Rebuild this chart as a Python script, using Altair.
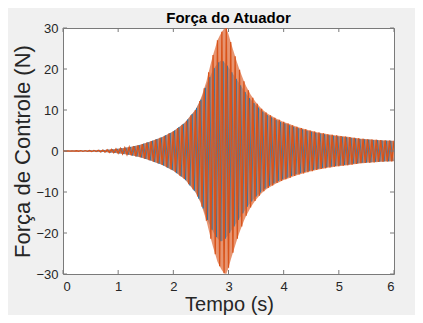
import altair as alt
import pandas as pd

# half-period sampling of the oscillation (s)
T_STEP = 0.04

# Orange series: successive peak values, t = 0, 0.04, ..., 6.00
ORANGE = [
    0.05, -0.05, 0.05, -0.05, 0.05, -0.05, 0.06, -0.06, 0.07, -0.07,
    0.08, -0.09, 0.11, -0.12, 0.13, -0.15, 0.18, -0.21, 0.24, -0.27,
    0.30, -0.35, 0.40, -0.45, 0.50, -0.55, 0.63, -0.71, 0.79, -0.87,
    0.95, -1.06, 1.17, -1.28, 1.39, -1.5, 1.68, -1.86, 2.04, -2.22,
    2.4, -2.6, 2.8, -3.0, 3.2, -3.4, 3.68, -3.96, 4.24, -4.52,
    4.8, -5.2, 5.6, -6.0, 6.4, -6.8, 7.4, -8.1, 8.7, -9.4,
    10.0, -11.1, 12.2, -13.6, 15.3, -17.0, 19.2, -21.4, 23.4, -25.2,
    27.0, -28.1, 29.1, -29.8, 30.0, -28.5, 26.6, -24.8, 23.1, -21.4,
    19.8, -18.4, 17.0, -15.8, 14.8, -13.8, 13.0, -12.2, 11.5, -10.9,
    10.3, -9.8, 9.4, -9.0, 8.7, -8.4, 8.1, -7.8, 7.6, -7.3,
    7.1, -6.9, 6.7, -6.5, 6.3, -6.1, 5.9, -5.75, 5.6, -5.45,
    5.3, -5.15, 5.0, -4.9, 4.75, -4.6, 4.5, -4.4, 4.3, -4.2,
    4.1, -4.0, 3.95, -3.85, 3.8, -3.7, 3.64, -3.58, 3.52, -3.46,
    3.4, -3.32, 3.24, -3.16, 3.08, -3.0, 2.96, -2.92, 2.88, -2.84,
    2.8, -2.76, 2.72, -2.68, 2.64, -2.6, 2.58, -2.56, 2.54, -2.52,
    2.5,
]

# Blue series: successive peak values, t = 0.02, 0.06, ..., 5.98
BLUE = [
    0.05, -0.05, 0.05, -0.05, 0.05, -0.05, 0.06, -0.06, 0.07, -0.07,
    0.08, -0.10, 0.11, -0.12, 0.14, -0.16, 0.19, -0.22, 0.25, -0.28,
    0.32, -0.37, 0.42, -0.47, 0.52, -0.58, 0.66, -0.74, 0.82, -0.90,
    1.0, -1.1, 1.2, -1.32, 1.44, -1.58, 1.76, -1.94, 2.12, -2.3,
    2.5, -2.7, 2.9, -3.1, 3.3, -3.54, 3.82, -4.1, 4.38, -4.66,
    5.0, -5.4, 5.8, -6.2, 6.6, -7.1, 7.7, -8.4, 9.0, -9.7,
    10.5, -11.6, 12.5, -14.0, 15.4, -16.8, 18.0, -19.2, 20.2, -21.0,
    21.6, -22.0, 21.9, -21.4, 20.8, -20.0, 19.2, -18.4, 17.6, -16.8,
    16.0, -15.2, 14.4, -13.6, 12.9, -12.3, 11.7, -11.1, 10.6, -10.1,
    9.6, -9.2, 8.8, -8.5, 8.2, -7.9, 7.6, -7.35, 7.1, -6.9,
    6.7, -6.5, 6.3, -6.1, 5.9, -5.7, 5.55, -5.4, 5.25, -5.1,
    4.95, -4.85, 4.7, -4.6, 4.45, -4.35, 4.25, -4.15, 4.05, -3.95,
    3.85, -3.8, 3.7, -3.65, 3.55, -3.5, 3.45, -3.4, 3.33, -3.26,
    3.2, -3.12, 3.05, -2.98, 2.92, -2.88, 2.84, -2.8, 2.76, -2.72,
    2.68, -2.65, 2.62, -2.59, 2.56, -2.53, 2.51, -2.49, 2.47, -2.45,
]

Y_TICKS = [-30, -20, -10, 0, 10, 20, 30]
X_TICKS = [0, 1, 2, 3, 4, 5, 6]

W, H = 331, 246
FONT = "Liberation Sans"
AXIS_COLOR = "#262626"
BOX_COLOR = "#7a7a7a"
C_BLUE = "#0072BD"
C_ORANGE = "#D95319"

orange_df = pd.DataFrame({"x": [round(i * T_STEP, 2) for i in range(len(ORANGE))], "y": ORANGE})
blue_df = pd.DataFrame({"x": [round(T_STEP / 2 + i * T_STEP, 2) for i in range(len(BLUE))], "y": BLUE})
yt_df = pd.DataFrame({"y": Y_TICKS})
xt_df = pd.DataFrame({"x": X_TICKS})

xs = alt.Scale(domain=[0, 6], nice=False, zero=False)
ys = alt.Scale(domain=[-30, 30], nice=False, zero=False)

x_axis = alt.Axis(
    values=X_TICKS, title="Tempo (s)", grid=False, ticks=False, domain=False,
    labelPadding=6, titleX=166, titleY=36.5, titleBaseline="alphabetic",
    titleAlign="center", titleAnchor="middle", titleFontSize=20)
y_axis = alt.Axis(
    values=Y_TICKS, title="Força de Controle (N)", grid=False, ticks=False, domain=False,
    labelPadding=5, titleX=-34, titleY=123, titleAngle=-90, titleBaseline="alphabetic",
    titleAlign="center")

x_enc = alt.X("x:Q", scale=xs, axis=x_axis)


def y_of(field):
    return alt.Y(field, scale=ys, axis=y_axis)


def band(df, color, opacity):
    return alt.Chart(df).transform_calculate(
        hi="abs(datum.y)", lo="-abs(datum.y)"
    ).mark_area(color=color, opacity=opacity, clip=True).encode(
        x=x_enc, y=y_of("hi:Q"), y2="lo:Q")


blue_band = band(blue_df, C_BLUE, 0.4)
orange_band = band(orange_df, C_ORANGE, 0.62)
blue_line = alt.Chart(blue_df).mark_line(color=C_BLUE, strokeWidth=0.7, opacity=0.85, clip=True).encode(x=x_enc, y=y_of("y:Q"))
orange_line = alt.Chart(orange_df).mark_line(color=C_ORANGE, strokeWidth=1.3, clip=True).encode(x=x_enc, y=y_of("y:Q"))

left_ticks = alt.Chart(yt_df).mark_rule(color=BOX_COLOR).encode(y=y_of("y:Q"), x=alt.value(0), x2=alt.value(4))
right_ticks = alt.Chart(yt_df).mark_rule(color=BOX_COLOR).encode(y=y_of("y:Q"), x=alt.value(W - 4), x2=alt.value(W))
bottom_ticks = alt.Chart(xt_df).mark_rule(color=BOX_COLOR).encode(x=x_enc, y=alt.value(H - 4), y2=alt.value(H))
top_ticks = alt.Chart(xt_df).mark_rule(color=BOX_COLOR).encode(x=x_enc, y=alt.value(0), y2=alt.value(4))

chart = alt.layer(
    blue_band, orange_band, blue_line, orange_line,
    left_ticks, right_ticks, bottom_ticks, top_ticks
).properties(
    width=W,
    height=H,
    title=alt.TitleParams("Força do Atuador", font=FONT, fontSize=15, fontWeight="bold",
                          color="#000000", offset=0, dy=19, baseline="bottom", frame="group",
                          anchor="middle"),
    autosize=alt.AutoSizeParams(type="none"),
    padding={"left": 55, "top": 20, "right": 21, "bottom": 41},
    background="#f0f0f0",
).configure_view(
    fill="white", stroke=BOX_COLOR, strokeWidth=1
).configure_axis(
    labelFont=FONT, labelFontSize=13, labelColor=AXIS_COLOR,
    titleFont=FONT, titleFontSize=22, titleFontWeight="normal", titleColor=AXIS_COLOR,
)

chart.save("out.html", embed_options={"renderer": "svg", "actions": False})
